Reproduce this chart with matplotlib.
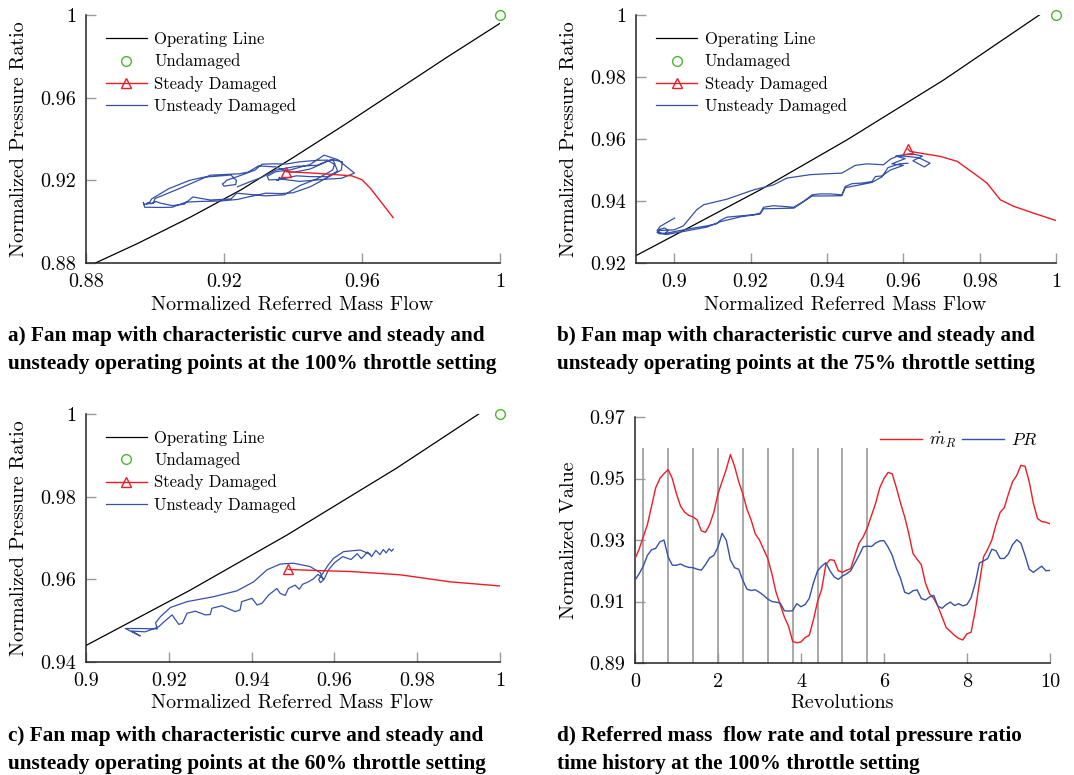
import matplotlib.pyplot as plt
import numpy as np

plt.rcParams['font.family'] = 'cmr10'
plt.rcParams['mathtext.fontset'] = 'cm'
plt.rcParams['axes.unicode_minus'] = False

RED = '#ee1c24'
BLUE = '#3551a8'
GREEN = '#4cb72e'
GREY = '#9a9a9a'

# ---- time history at 100% throttle (panel d, also the loop in panel a) ----
revs = np.linspace(0, 10, 101)
mdot_r = [0.9239, 0.927, 0.931, 0.935, 0.941, 0.947, 0.950, 0.9516, 0.9529, 0.950,
          0.945, 0.941, 0.939, 0.938, 0.9375, 0.9365, 0.933, 0.9325, 0.935, 0.939,
          0.945, 0.949, 0.953, 0.9578, 0.954, 0.949, 0.945, 0.940, 0.9365, 0.932,
          0.930, 0.927, 0.924, 0.919, 0.913, 0.909, 0.905, 0.902, 0.897, 0.8966,
          0.8968, 0.8983, 0.899, 0.904, 0.910, 0.914, 0.922, 0.9236, 0.9234, 0.920,
          0.9195, 0.9202, 0.9207, 0.925, 0.929, 0.931, 0.934, 0.938, 0.942, 0.947,
          0.950, 0.952, 0.9515, 0.947, 0.942, 0.9375, 0.932, 0.9256, 0.9237, 0.922,
          0.916, 0.9125, 0.911, 0.9085, 0.905, 0.9015, 0.9003, 0.899, 0.898, 0.8975,
          0.8995, 0.900, 0.907, 0.916, 0.9245, 0.927, 0.930, 0.935, 0.939, 0.9405,
          0.945, 0.949, 0.951, 0.9543, 0.954, 0.949, 0.942, 0.937, 0.936, 0.9358,
          0.9353]
pr = [0.9169, 0.919, 0.9215, 0.925, 0.9268, 0.9273, 0.9294, 0.930, 0.9245, 0.9218,
      0.9218, 0.9222, 0.9215, 0.9211, 0.921, 0.9205, 0.9202, 0.922, 0.9242, 0.925,
      0.9277, 0.9322, 0.930, 0.9235, 0.921, 0.9205, 0.9169, 0.914, 0.9136, 0.9138,
      0.913, 0.912, 0.9108, 0.910, 0.9098, 0.9095, 0.907, 0.9069, 0.907, 0.9093,
      0.9083, 0.909, 0.911, 0.916, 0.920, 0.9215, 0.9226, 0.920, 0.918, 0.9172,
      0.9183, 0.919, 0.920, 0.9225, 0.925, 0.9278, 0.928, 0.9279, 0.929, 0.9297,
      0.9298, 0.9277, 0.925, 0.9208, 0.9175, 0.913, 0.9125, 0.9135, 0.9138, 0.911,
      0.9105, 0.9115, 0.912, 0.9085, 0.9078, 0.909, 0.9098, 0.9087, 0.9093, 0.9086,
      0.909, 0.9112, 0.916, 0.9225, 0.9232, 0.924, 0.927, 0.9265, 0.924, 0.924,
      0.9255, 0.9285, 0.9301, 0.929, 0.925, 0.9205, 0.9195, 0.9205, 0.9215, 0.920,
      0.9201]
sample_revs = [0.2, 0.8, 1.4, 2.0, 2.6, 3.2, 3.8, 4.4, 5.0, 5.6]

# ---- fan map, 100% throttle ----
op_a_x = [0.8827, 0.895, 0.91, 0.925, 0.94, 0.955, 0.97, 0.985, 1.0]
op_a_y = [0.880, 0.8895, 0.902, 0.9155, 0.931, 0.947, 0.9635, 0.980, 0.996]
steady_a_x = [0.938, 0.945, 0.952, 0.957, 0.960, 0.9625, 0.966, 0.969]
steady_a_y = [0.9242, 0.9236, 0.9228, 0.9222, 0.9203, 0.9160, 0.9085, 0.9020]

# ---- fan map, 75% throttle ----
op_b_x = [0.89, 0.8937, 0.9225, 0.9452, 0.9705, 0.9956, 1.0]
op_b_y = [0.9224, 0.9248, 0.9436, 0.9597, 0.979, 1.0, 1.0035]
steady_b_x = [0.9612, 0.9618, 0.9697, 0.9741, 0.9784, 0.9819, 0.9854, 0.9889, 0.9941, 1.0]
steady_b_y = [0.9568, 0.956, 0.9544, 0.9528, 0.949, 0.9458, 0.9404, 0.9383, 0.9361, 0.9337]
unsteady_b_x = [0.9001, 0.8981, 0.8963, 0.8955, 0.8962, 0.8976, 0.8985, 0.8975, 0.8960,
                0.8958, 0.8975, 0.9016, 0.9051, 0.9086, 0.9112, 0.912, 0.9138, 0.9173,
                0.9208, 0.9225, 0.9234, 0.926, 0.9313, 0.9339, 0.9361, 0.9383, 0.9409,
                0.9439, 0.9448, 0.9466, 0.9492, 0.9518, 0.9527, 0.9544, 0.9566, 0.9600,
                0.9570, 0.9605, 0.9580, 0.9620, 0.9650, 0.9625, 0.9655, 0.9670, 0.9640,
                0.9600, 0.9583, 0.9566, 0.9548, 0.9505, 0.9474, 0.9439, 0.9400, 0.9356,
                0.9295, 0.9260, 0.9208, 0.9138, 0.9077, 0.9059, 0.9024, 0.9000, 0.8963,
                0.8955, 0.8980, 0.9016, 0.9086, 0.9120, 0.9173, 0.9225, 0.9234, 0.9313,
                0.9361, 0.9439, 0.9448, 0.9518, 0.9544, 0.9560, 0.9590, 0.9612]
unsteady_b_y = [0.9345, 0.9331, 0.9318, 0.9304, 0.9294, 0.9296, 0.9305, 0.9313, 0.9308,
                0.9298, 0.9295, 0.9305, 0.9313, 0.9320, 0.9327, 0.9337, 0.9348, 0.9352,
                0.9356, 0.9361, 0.9380, 0.9385, 0.9380, 0.9399, 0.9420, 0.9423, 0.9423,
                0.9420, 0.9447, 0.9456, 0.9458, 0.9463, 0.9479, 0.9481, 0.9500, 0.9515,
                0.9520, 0.9537, 0.9545, 0.9553, 0.9545, 0.9530, 0.9510, 0.9522, 0.9540,
                0.9545, 0.9544, 0.9535, 0.9517, 0.9520, 0.9515, 0.9490, 0.9488, 0.9485,
                0.9474, 0.9452, 0.9436, 0.9406, 0.9388, 0.9372, 0.9320, 0.9307, 0.9305,
                0.9298, 0.9292, 0.9300, 0.9316, 0.9333, 0.9349, 0.9358, 0.9375, 0.9377,
                0.9416, 0.9417, 0.9443, 0.9460, 0.9478, 0.9508, 0.9520, 0.9522]

# ---- fan map, 60% throttle ----
op_c_x = [0.9, 0.925, 0.9485, 0.975, 1.0]
op_c_y = [0.944, 0.9573, 0.9707, 0.9869, 1.0034]
steady_c_x = [0.9488, 0.9566, 0.9638, 0.9759, 0.9879, 1.0]
steady_c_y = [0.9624, 0.9621, 0.9619, 0.9611, 0.9594, 0.9584]
unsteady_c_x = [0.9686, 0.9662, 0.9622, 0.9598, 0.9585, 0.9572, 0.9562, 0.9566, 0.9573,
                0.9566, 0.9541, 0.9501, 0.9469, 0.9437, 0.9405, 0.9364, 0.9308, 0.9244,
                0.9204, 0.9180, 0.9168, 0.9172, 0.9130, 0.9095, 0.9131, 0.9110, 0.9143,
                0.9175, 0.9187, 0.9208, 0.9224, 0.9233, 0.9244, 0.9264, 0.9288, 0.9300,
                0.9304, 0.9328, 0.9360, 0.9372, 0.9376, 0.9401, 0.9413, 0.9425, 0.9441,
                0.9461, 0.9469, 0.9481, 0.9489, 0.9505, 0.9515, 0.9523, 0.9537, 0.9549,
                0.9560, 0.9575, 0.9585, 0.9600, 0.9620, 0.9640, 0.9655, 0.9665, 0.9680,
                0.9690, 0.9700, 0.9710, 0.9718, 0.9725, 0.9732, 0.9738, 0.9742]
unsteady_c_y = [0.9661, 0.9671, 0.9667, 0.9651, 0.9635, 0.9615, 0.9600, 0.9592, 0.9598,
                0.9616, 0.9631, 0.9639, 0.9637, 0.9623, 0.9594, 0.9572, 0.9558, 0.9546,
                0.9532, 0.9510, 0.9495, 0.9480, 0.9481, 0.9481, 0.9463, 0.9475, 0.9473,
                0.9485, 0.9496, 0.9514, 0.9491, 0.9494, 0.9518, 0.9523, 0.9514, 0.9515,
                0.9530, 0.9536, 0.9522, 0.9526, 0.9546, 0.9554, 0.9538, 0.9542, 0.9562,
                0.9578, 0.9566, 0.9561, 0.9578, 0.9586, 0.9576, 0.9588, 0.9594, 0.9601,
                0.9612, 0.9600, 0.9622, 0.9640, 0.9655, 0.9648, 0.9662, 0.9650, 0.9666,
                0.9655, 0.9670, 0.9660, 0.9672, 0.9664, 0.9674, 0.9668, 0.9673]

captions = [
    "a) Fan map with characteristic curve and steady and\n"
    "unsteady operating points at the 100% throttle setting",
    "b) Fan map with characteristic curve and steady and\n"
    "unsteady operating points at the 75% throttle setting",
    "c) Fan map with characteristic curve and steady and\n"
    "unsteady operating points at the 60% throttle setting",
    "d) Referred mass  flow rate and total pressure ratio\n"
    "time history at the 100% throttle setting",
]

LABEL_FS = 14.5
TICK_FS = 14.5


def style_axes(ax, xticks, xlabels, yticks, ylabels, xlim, ylim):
    ax.set_xlim(*xlim)
    ax.set_ylim(*ylim)
    ax.set_xticks(xticks)
    ax.set_xticklabels(xlabels)
    ax.set_yticks(yticks)
    ax.set_yticklabels(ylabels)
    ax.tick_params(direction='in', length=7, width=1.0, color=GREY,
                   labelsize=TICK_FS, pad=7)
    for side in ('top', 'right'):
        ax.spines[side].set_visible(False)
    for side in ('left', 'bottom'):
        ax.spines[side].set_color('#222222')
        ax.spines[side].set_linewidth(1.1)


def fan_map(ax, op_x, op_y, st_x, st_y, un_x, un_y):
    ax.plot(op_x, op_y, color='black', lw=0.9, label='Operating Line')
    ax.plot([1.0], [1.0], 'o', mfc='none', mec=GREEN, ms=7, mew=1.0,
            clip_on=False, label='Undamaged', zorder=5)
    ax.plot(st_x, st_y, color=RED, lw=1.0, marker='^', markevery=[0],
            mfc='none', mec=RED, ms=7, mew=1.0, label='Steady Damaged', zorder=4)
    ax.plot(un_x, un_y, color=BLUE, lw=0.9, label='Unsteady Damaged', zorder=3)
    ax.legend(loc='upper left', bbox_to_anchor=(0.048, 0.932), frameon=False,
              fontsize=12, handlelength=2.45, handletextpad=0.45,
              labelspacing=0.38, borderpad=0, borderaxespad=0, numpoints=1)
    ax.set_xlabel('Normalized Referred Mass Flow', fontsize=LABEL_FS)
    ax.set_ylabel('Normalized Pressure Ratio', fontsize=LABEL_FS)


fig = plt.figure(figsize=(10.74, 7.75), dpi=100)

ax_a = fig.add_axes([0.0801, 0.6606, 0.3855, 0.32])
ax_b = fig.add_axes([0.5922, 0.6606, 0.3911, 0.32])
ax_c = fig.add_axes([0.0801, 0.1458, 0.3855, 0.32])
ax_d = fig.add_axes([0.5912, 0.1445, 0.3864, 0.3174])

fan_map(ax_a, op_a_x, op_a_y, steady_a_x, steady_a_y, mdot_r, pr)
style_axes(ax_a, [0.88, 0.92, 0.96, 1.0], ['0.88', '0.92', '0.96', '1'],
           [0.88, 0.92, 0.96, 1.0], ['0.88', '0.92', '0.96', '1'],
           (0.88, 1.0), (0.88, 1.0))

fan_map(ax_b, op_b_x, op_b_y, steady_b_x, steady_b_y, unsteady_b_x, unsteady_b_y)
style_axes(ax_b, [0.9, 0.92, 0.94, 0.96, 0.98, 1.0],
           ['0.9', '0.92', '0.94', '0.96', '0.98', '1'],
           [0.92, 0.94, 0.96, 0.98, 1.0], ['0.92', '0.94', '0.96', '0.98', '1'],
           (0.89, 1.0), (0.92, 1.0))

fan_map(ax_c, op_c_x, op_c_y, steady_c_x, steady_c_y, unsteady_c_x, unsteady_c_y)
style_axes(ax_c, [0.9, 0.92, 0.94, 0.96, 0.98, 1.0],
           ['0.9', '0.92', '0.94', '0.96', '0.98', '1'],
           [0.94, 0.96, 0.98, 1.0], ['0.94', '0.96', '0.98', '1'],
           (0.9, 1.0), (0.94, 1.0))

# time history
ax_d.vlines(sample_revs, 0.89, 0.96, color=GREY, lw=1.2, zorder=1)
ax_d.plot(revs, mdot_r, color=RED, lw=1.0, label=r'$\dot{m}_R$', zorder=3)
ax_d.plot(revs, pr, color=BLUE, lw=1.0, label=r'$PR$', zorder=3)
ax_d.legend(loc='upper left', bbox_to_anchor=(0.59, 0.945), ncol=2,
            frameon=False, fontsize=12.5, handlelength=2.45, handletextpad=0.4,
            columnspacing=0.3, borderpad=0, borderaxespad=0)
style_axes(ax_d, [0, 2, 4, 6, 8, 10], ['0', '2', '4', '6', '8', '10'],
           [0.89, 0.91, 0.93, 0.95, 0.97], ['0.89', '0.91', '0.93', '0.95', '0.97'],
           (0, 10), (0.89, 0.97))
ax_d.set_xlabel('Revolutions', fontsize=LABEL_FS)
ax_d.set_ylabel('Normalized Value', fontsize=LABEL_FS)

# label placement (axes fraction)
for ax, xl, yl in [(ax_a, (0.498, -0.169), (-0.162, 0.5)),
                   (ax_b, (0.498, -0.169), (-0.160, 0.5)),
                   (ax_c, (0.498, -0.165), (-0.162, 0.5)),
                   (ax_d, (0.5, -0.163), (-0.160, 0.5))]:
    ax.xaxis.set_label_coords(*xl)
    ax.yaxis.set_label_coords(*yl)
    ax.xaxis.label.set_va('center')
    ax.yaxis.label.set_va('center')

# captions under each panel
cap_pos = [(0.0075, 0.5485), (0.5186, 0.5485), (0.0075, 0.0322), (0.5186, 0.0322)]
for (cx, cy), txt in zip(cap_pos, captions):
    fig.text(cx, cy, txt, family='Liberation Serif', weight='bold',
             fontsize=15.3, ha='left', va='center', linespacing=1.5)

fig.savefig('out.png', dpi=100)
